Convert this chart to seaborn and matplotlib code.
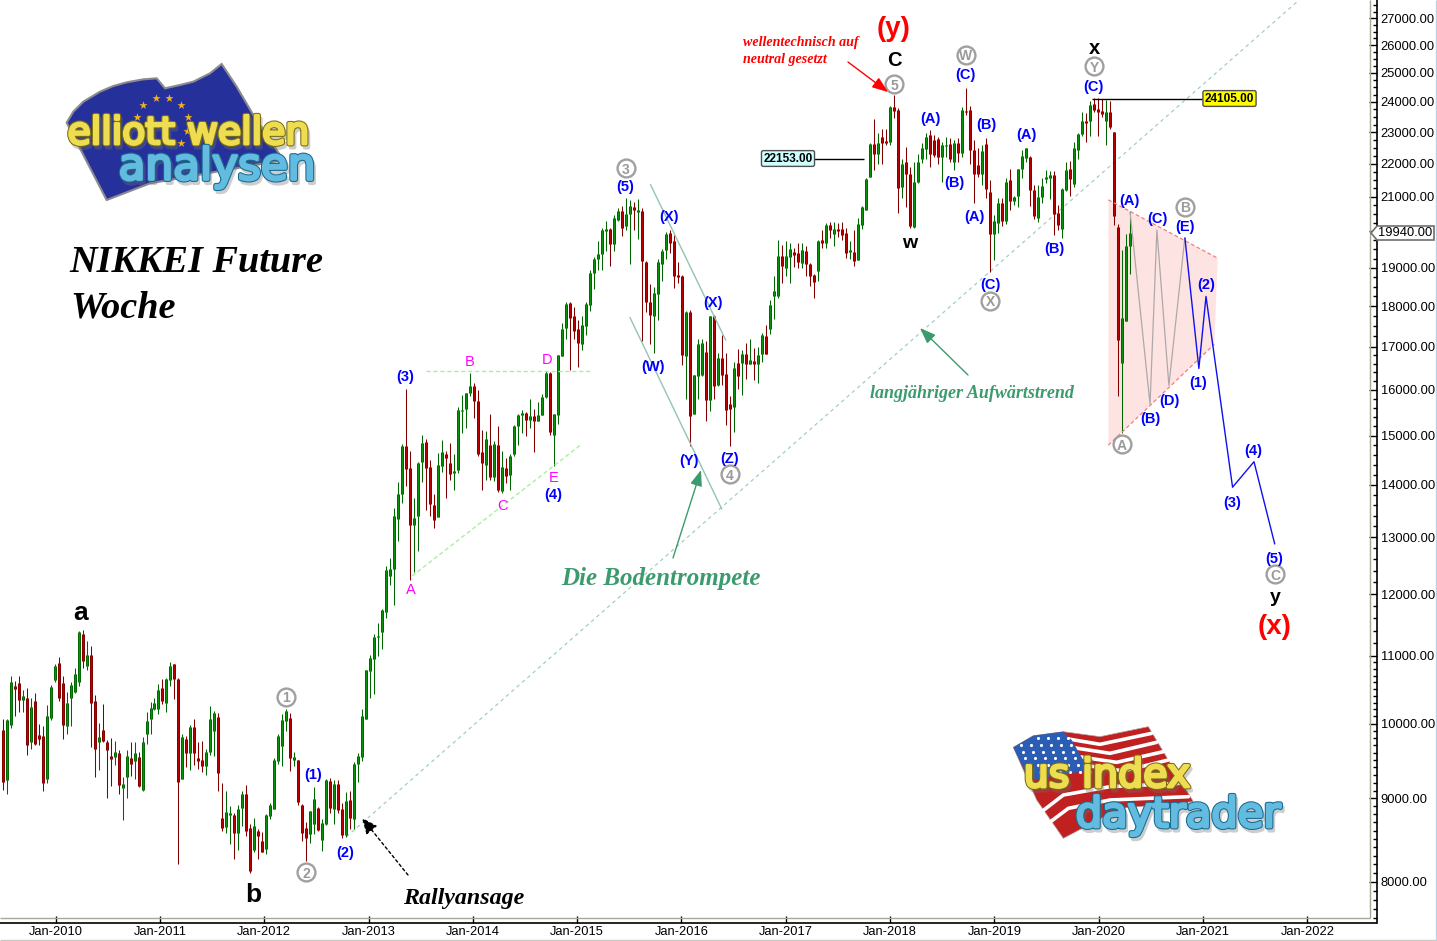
import matplotlib
matplotlib.use("Agg")
import matplotlib.pyplot as plt
import matplotlib.dates as mdates
import matplotlib.patheffects as pe
import matplotlib.transforms as mtrans
from matplotlib.patches import Polygon
from matplotlib.ticker import NullFormatter
import seaborn as sns
import pandas as pd

# candle data (one bar every two weeks)
first_date = "2009-06-29"

highs = [
    10070,10070,10700,10620,10700,10480,10510,10360,10440,10000,
    9970,10260,10560,10870,10990,10700,10450,10600,10820,11390,
    11410,11230,11150,10410,10010,10280,9770,9800,9760,9630,
    9270,9640,9740,9740,9610,9810,10160,10310,10360,10580,
    10650,10670,10910,10880,10670,9860,9820,9980,10060,9740,
    9760,9650,10250,10180,10150,9200,9100,8900,8820,8910,
    9090,9170,8680,8760,8620,8580,8800,8940,9520,9860,
    10140,10200,10150,9610,9500,8930,8710,8840,9150,8890,
    8740,9250,9260,9230,9230,8940,9080,9090,9470,9590,
    10210,10790,11020,11340,11520,11750,12490,12630,13550,14050,
    14820,16010,14680,13730,14460,15010,14930,14490,13810,14630,
    14900,14690,14850,14610,15610,15880,15930,16380,16160,15990,
    15110,15090,15460,14880,15200,14680,14540,14610,15220,15470,
    15550,15500,15800,15570,15720,15900,16430,16400,15470,16800,
    17570,18100,18100,17980,17650,17750,18100,18930,19300,19720,
    20110,20290,20090,20480,20670,20740,20960,20910,20860,20930,
    20670,19180,18560,18500,19230,19510,19990,20040,19900,19160,
    18820,17890,17910,16330,17200,17200,17140,17760,17790,16860,
    17280,16860,15860,16650,16940,16920,17100,17180,16980,16990,
    17330,17520,18150,18770,19770,19630,19720,19690,19540,19680,
    19680,19590,19140,18840,19770,20040,20230,20280,20280,20230,
    20280,20090,19720,20040,20380,20720,21570,22640,23430,22960,
    23100,23090,23880,24220,23800,22160,22530,21900,22070,22320,
    22640,22960,23070,22900,22830,22700,22830,22800,22750,22800,
    23830,24480,23850,22750,22480,22580,22800,21500,20480,20960,
    20960,21550,21850,21010,21850,22420,22480,22230,21360,21360,
    21550,21800,21780,21770,20750,21270,22070,22080,22670,22960,
    23650,23630,24050,24140,24140,24110,24080,24050,23000,20200,
    19470,19920,20570,
]
body_tops = [
    9910,10050,10610,10550,10590,10400,10360,10230,10330,9840,
    9830,10110,10530,10840,10890,10590,10300,10560,10730,11380,
    11340,11010,11010,10330,9810,9910,9740,9560,9610,9600,
    9190,9560,9520,9590,9540,9750,10030,10220,10300,10490,
    10510,10650,10850,10870,10650,9810,9790,9950,9950,9520,
    9500,9610,10060,10150,10090,8750,8830,8820,8790,8870,
    9060,9060,8630,8660,8600,8480,8790,8910,9500,9830,
    10050,10180,10080,9540,9500,8910,8630,8840,8990,8880,
    8690,9230,9220,9190,9180,8860,8970,8980,9450,9560,
    10110,10790,10970,11300,11320,11730,12410,12430,13390,13810,
    14780,14780,14330,13350,14430,14840,14860,14350,13600,14390,
    14650,14610,14430,14280,15550,15560,15930,16080,16080,15740,
    14650,14940,14800,14820,14800,14350,14330,14570,15210,15450,
    15480,15480,15430,15430,15450,15840,16380,16380,15460,16800,
    17420,18060,18080,17760,17420,17520,18060,18870,19230,19380,
    20040,20060,20060,20390,20580,20580,20500,20740,20700,20600,
    20580,19160,18110,18340,19170,19460,19930,19950,19740,18820,
    18790,17850,17850,16330,17060,17100,16880,17760,17760,16740,
    16740,16350,15680,16510,16610,16820,16840,16680,16670,16800,
    17280,17260,18030,18380,19320,19320,19330,19500,19430,19390,
    19470,19460,19090,18800,19720,19770,20180,20180,20070,20070,
    20060,19950,19470,19430,20210,20690,21540,22610,22610,22640,
    22830,22710,23830,23830,23740,22000,22070,21700,21450,22070,
    22480,22830,22900,22760,22770,22580,22600,22610,22640,22640,
    23740,23700,23730,22420,21970,22410,22610,21140,20300,20810,
    20810,21430,21500,20990,21850,22250,22480,22200,21210,20990,
    21320,21580,21650,21650,20530,21240,21800,21840,22480,22930,
    23360,23360,23910,23940,23770,23710,23650,23660,23000,20130,
    17710,19600,19960,
]
body_bots = [
    9210,9240,9980,10500,10340,10340,9700,9750,9720,9780,
    9200,9250,10080,10640,10360,9980,9960,10360,10460,10610,
    10920,10850,10300,9650,9750,9760,9630,9510,9540,9170,
    9130,9270,9440,9480,9160,9110,9850,10060,10210,10210,
    10320,10300,10640,10650,9210,9250,9600,9600,9600,9490,
    9420,9420,9610,9900,9330,8630,8640,8790,8570,8570,
    8880,8600,8130,8370,8540,8350,8380,8780,8870,9480,
    9690,10030,9530,9500,8950,8570,8510,8560,8680,8610,
    8490,8680,8880,8870,8850,8550,8550,8750,8740,9440,
    9540,10060,10770,10950,11300,11380,11700,12310,12430,13340,
    13820,14310,13220,13220,13390,14460,14330,13620,13320,13380,
    14370,14540,14210,14230,14290,15530,15570,15930,15750,14610,
    14440,14390,14150,14150,13890,13870,14170,14190,14610,15200,
    15450,15330,15330,15310,15310,15450,15830,15070,15020,15440,
    16780,17460,17700,17380,17090,17070,17500,18030,18860,19240,
    19380,20020,19650,19660,20330,20110,20140,20490,20600,20550,
    19180,18110,17770,17760,18310,19100,19470,19690,18780,18750,
    16810,16780,15420,15470,16320,16330,15770,15770,16090,16110,
    16340,15560,15570,15620,16320,16610,16600,16600,16600,16600,
    16820,16840,17420,18250,18250,19050,19000,19290,19350,19150,
    19140,19090,18780,18620,18910,19680,19680,20040,19930,20010,
    19900,19410,19420,19180,19210,20180,20620,21600,22300,22290,
    22660,22660,22690,23700,21260,21280,21700,20140,20120,21440,
    22140,22460,22320,22270,22200,22210,22560,22140,22070,22340,
    22340,23660,22420,21700,21700,21690,21230,19920,19920,20230,
    20310,20310,20890,20890,21010,21840,22180,21210,20430,20370,
    20980,21540,21570,20490,20190,20080,21210,21520,21370,22420,
    22930,23310,23350,23740,23680,23590,23370,23180,20430,17170,
    16620,17630,19590,
]
lows = [
    9110,9050,9940,10110,10160,10170,9570,9650,9700,9700,
    9090,9200,10050,10600,10330,9790,9860,9960,10440,10550,
    10820,10780,9670,9270,9370,9740,9010,9160,9430,9050,
    8730,9000,9290,9250,9140,9100,9720,9860,10190,10130,
    10280,10160,10550,10350,8210,9250,9410,9370,9430,9380,
    9340,9300,9570,9560,9100,8590,8570,8440,8260,8370,
    8660,8540,8100,8340,8260,8340,8320,8740,8870,9450,
    9420,9900,9350,9420,8920,8480,8240,8450,8560,8590,
    8360,8670,8820,8680,8820,8510,8520,8620,8620,9210,
    9480,10060,10360,10420,11000,11100,11610,12150,11810,12940,
    13640,13970,12240,12380,12750,14060,13510,13390,13170,13370,
    14250,13730,14090,13890,14240,15060,15160,15860,15380,14580,
    13900,14100,14100,14070,13860,13840,14030,13900,14580,14800,
    15060,15000,15170,14660,15310,15440,15820,15010,14370,15240,
    16780,17180,16460,17200,16530,16920,17280,17890,18430,18940,
    18940,19450,19050,19450,20310,19860,20040,19090,20040,19780,
    17150,17850,17060,16860,17650,18650,19230,19390,18480,18610,
    16570,15790,14780,15460,15790,16320,15310,15520,15800,16090,
    16110,15220,14780,15070,16010,15880,16240,16590,16220,16150,
    16640,16820,17300,17670,18210,18600,18780,18600,19030,19000,
    19000,18780,18520,18200,18650,19550,19540,19810,19590,19830,
    19770,19270,19230,19050,19210,20080,20600,21580,21800,22000,
    21980,22580,22580,23460,20530,20960,20700,20090,20100,21410,
    22020,22160,21900,22210,22000,21430,22210,22050,21800,22050,
    22210,23550,22000,20820,21600,21360,20960,18890,19220,19950,
    20140,20200,20620,20770,20700,21550,22050,20720,20350,20280,
    20810,21410,20940,19890,20040,19820,21180,21030,21290,22140,
    22890,22690,22890,23670,22890,23490,22580,23090,20190,15860,
    15060,17630,18830,
]
directions = (
    "RGGRRGRGRR" "RGGGRRGGGG" "RGRRGRRRGR" "GGRGRGGGGG" "RGGRRGRGRR"
    "RGGGRRGGRG" "GRRGRRGGGG" "GGRGRRRGGR" "GGRGRRGRGG" "GGGGGGGGGG"
    "GRRGGGRRRG" "GRRGGGGGRR" "RGRGRGRGGG" "GRGRGGGRGG" "GGRRRGGGGG"
    "GGRGGRGGRG" "RRRGGGGRRR" "RGRGGGRGRG" "RRRGRGRGRG" "GRGGGRGGRR"
    "GRRRGRGRGR" "RRGRGGGGRG" "RRGRRGRRGG" "GGRRRGGRGR" "GRRRRGRRGG"
    "RGRGGGGRRG" "GGGRRGGRGG" "GRGRRRGRRR" "GGG"
)

# wave count drawn into the triangle and the projection
tri_dates = ["2020-04-20", "2020-06-29", "2020-07-23", "2020-09-03", "2020-10-29"]
tri_prices = [20560, 15680, 20040, 16100, 19830]
proj_dates = ["2020-10-29", "2020-12-17", "2021-01-11", "2021-04-14", "2021-06-28", "2021-09-09"]
proj_prices = [19830, 16490, 18250, 13950, 14460, 12870]

shade_dates = ["2020-02-04", "2021-02-21", "2021-02-09", "2020-02-04"]
shade_prices = [20910, 19260, 17060, 14800]

# trend lines
up_dates = ["2012-10-15", "2021-12-03"]
up_prices = [8526, 27707]
flat_dates = ["2013-07-22", "2015-02-14"]
flat_prices = [16440, 16440]
rise_dates = ["2013-06-02", "2015-01-12"]
rise_prices = [12310, 14800]
trumpet_up_dates = ["2015-09-14", "2016-06-05"]
trumpet_up_prices = [21377, 17150]
trumpet_lo_dates = ["2015-07-04", "2016-05-22"]
trumpet_lo_prices = [17730, 13520]
peak_dates = ["2019-12-09", "2021-01-07"]
peak_prices = [24105, 24105]
mark_dates = ["2017-04-08", "2017-10-03"]
mark_prices = [22153, 22153]

year_labels = list(range(2010, 2023))
price_ticks = list(range(8000, 28000, 1000))
minor_ticks = (list(range(7600, 11000, 100)) + list(range(11000, 17000, 200))
               + list(range(17000, 27700, 250)))


def num(dates):
    return mdates.date2num(pd.to_datetime(dates))


sns.set_theme(style="white", rc={"lines.solid_capstyle": "butt",
                                 "lines.dash_capstyle": "butt"})
plt.rcParams["font.family"] = ["Liberation Sans", "DejaVu Sans"]

W, H = 1437, 941
fig = plt.figure(figsize=(W / 100, H / 100), dpi=100, facecolor="white")
ax = fig.add_axes([0, 18 / H, 1376.5 / W, 923 / H])
ax.set_yscale("log")

# pixel positions of the reference, only for notes and logos
px = mtrans.Affine2D().scale(1, -1).translate(0, H)

xnum = num(pd.date_range(first_date, periods=len(highs), freq="14D"))

wicks = pd.DataFrame({
    "x": list(xnum) * 2,
    "price": highs + lows,
    "candle": list(range(len(highs))) * 2,
    "dir": list(directions) * 2,
})
bodies = pd.DataFrame({
    "x": list(xnum) * 2,
    "price": body_tops + body_bots,
    "candle": list(range(len(highs))) * 2,
    "dir": list(directions) * 2,
})

ax.fill(num(shade_dates), shade_prices, color="#FDE4E2", lw=0, zorder=1)
sns.lineplot(x=num(up_dates), y=up_prices, color="#9CCDBB", lw=0.85, linestyle=(0, (3, 3)), ax=ax, zorder=1.5)

wick_pal = {"G": "#006400", "R": "#800000"}
sns.lineplot(data=wicks, x="x", y="price", units="candle", estimator=None, hue="dir",
             palette=wick_pal, lw=0.75, legend=False, ax=ax, zorder=2)
sns.lineplot(data=bodies, x="x", y="price", units="candle", estimator=None, hue="dir",
             palette=wick_pal, lw=2.16, legend=False, ax=ax, zorder=2.1)
sns.lineplot(data=bodies, x="x", y="price", units="candle", estimator=None, hue="dir",
             palette={"G": "#0B900B", "R": "#B80000"}, lw=0.9, legend=False, ax=ax, zorder=2.2)

# triangle borders
sns.lineplot(x=num([shade_dates[0], shade_dates[1]]), y=shade_prices[:2], color="#F08080", lw=0.9,
             linestyle=(0, (3, 2)), ax=ax, zorder=2.5)
sns.lineplot(x=num([shade_dates[3], shade_dates[2]]), y=[shade_prices[3], shade_prices[2]], color="#F08080",
             lw=0.9, linestyle=(0, (3, 2)), ax=ax, zorder=2.5)

sns.lineplot(x=num(flat_dates), y=flat_prices, color="#A8F0A0", lw=1, linestyle=(0, (3, 2)), ax=ax, zorder=2.5)
sns.lineplot(x=num(rise_dates), y=rise_prices, color="#A8F0A0", lw=1, linestyle=(0, (3, 2)), ax=ax, zorder=2.5)
sns.lineplot(x=num(trumpet_up_dates), y=trumpet_up_prices, color="#93C4B2", lw=1, ax=ax, zorder=2.5)
sns.lineplot(x=num(trumpet_lo_dates), y=trumpet_lo_prices, color="#93C4B2", lw=1, ax=ax, zorder=2.5)
sns.lineplot(x=num(peak_dates), y=peak_prices, color="black", lw=1, ax=ax, zorder=2.5)
sns.lineplot(x=num(mark_dates), y=mark_prices, color="black", lw=1, ax=ax, zorder=2.5)

sns.lineplot(x=num(tri_dates), y=tri_prices, color="#AFA8A8", lw=0.9, sort=False, estimator=None, ax=ax, zorder=3)
sns.lineplot(x=num(proj_dates), y=proj_prices, color="#1010F0", lw=1, sort=False, estimator=None, ax=ax, zorder=3)

ax.set_xlim(mdates.date2num(pd.Timestamp("2009-06-20")), mdates.date2num(pd.Timestamp("2022-08-31")))
ax.set_ylim(7551, 27707)

# axes
ax.yaxis.tick_right()
ax.set_yticks(price_ticks)
ax.set_yticklabels([f"{p}.00" for p in price_ticks], fontsize=9.3, color="black")
ax.set_yticks(minor_ticks, minor=True)
ax.yaxis.set_minor_formatter(NullFormatter())
ax.set_xticks(num([f"{y}-01-01" for y in year_labels]))
ax.set_xticklabels([f"Jan-{y}" for y in year_labels], fontsize=9.3, color="black")
ax.tick_params(axis="y", which="major", direction="in", length=6, width=1, color="black", pad=3,
               left=False, right=True)
ax.tick_params(axis="y", which="minor", direction="in", length=3, width=1, color="black",
               left=False, right=True)
ax.tick_params(axis="x", which="major", direction="in", length=5, width=1, color="black", pad=2,
               bottom=True)
ax.set_xlabel("")
ax.set_ylabel("")
for side in ["top", "left"]:
    ax.spines[side].set_visible(False)
for side in ["bottom", "right"]:
    ax.spines[side].set_color("black")
    ax.spines[side].set_linewidth(1.2)
ax.patch.set_alpha(0)

# frame lines around the plot
for xs, ys, c in [([0, 1370], [918, 918], "#A8A898"), ([1370, 1370], [0, 918], "#A8A898"),
                  ([0, W], [940, 940], "#C8C8C0"), ([1436, 1436], [0, H], "#B8D4E8")]:
    ax.plot(xs, ys, color=c, lw=1, transform=px, clip_on=False, zorder=1)


def note(x, y, s, color="#0000FF", size=10.5, weight="bold", style="normal", family=None, ha="center"):
    fam = family if family else "Liberation Sans"
    return ax.text(x, y, s, color=color, fontsize=size, fontweight=weight, fontstyle=style, family=fam,
                   ha=ha, va="center_baseline", transform=px, zorder=6)


def ring(x, y, s):
    ax.scatter([x], [y], s=165, facecolor="white", edgecolor="#A0A0A0", lw=1.7, transform=px,
               clip_on=False, zorder=5)
    note(x, y, s, color="#9A9A9A", size=10)


for x, y, s in [(930, 117, "(A)"), (954, 182, "(B)"), (965, 73, "(C)"), (986, 124, "(B)"), (974, 215, "(A)"),
                (1026, 134, "(A)"), (1054, 248, "(B)"), (990, 283, "(C)"), (1093, 85, "(C)"),
                (1129, 200, "(A)"), (1157, 217, "(C)"), (1185, 226, "(E)"), (1206, 284, "(2)"),
                (1198, 381, "(1)"), (1169, 400, "(D)"), (1150, 418, "(B)"), (1253, 450, "(4)"),
                (1232, 501, "(3)"), (1274, 558, "(5)"), (405, 376, "(3)"), (553, 494, "(4)"),
                (625, 186, "(5)"), (669, 216, "(X)"), (653, 365, "(W)"), (713, 301, "(X)"),
                (689, 459, "(Y)"), (730, 457, "(Z)"), (313, 773, "(1)"), (345, 851, "(2)")]:
    note(x, y, s)

for x, y, s in [(470, 361, "B"), (547, 358, "D"), (411, 588, "A"), (503, 504, "C"), (554, 477, "E")]:
    note(x, y, s, color="#FF00FF", weight="normal")

for x, y, s in [(894, 84, "5"), (966, 55, "W"), (990, 301, "X"), (1094, 66, "Y"), (1185, 207, "B"),
                (1122, 444, "A"), (1275, 574, "C"), (626, 168, "3"), (730, 474, "4"),
                (286, 697, "1"), (306, 872, "2")]:
    ring(x, y, s)

for x, y, s, fs in [(894, 59, "C", 14.5), (1094, 46, "x", 14.5), (910, 242, "w", 14), (1275, 595, "y", 14),
                    (81, 610, "a", 19), (253, 892, "b", 19)]:
    note(x, y, s, color="black", size=fs)
note(894, 26, "(y)", color="#FF0000", size=20)
note(1275, 624, "(x)", color="#FF0000", size=20)

serif = "Liberation Serif"
note(743, 41, "wellentechnisch auf", color="#FF0000", size=10.1, style="italic", family=serif, ha="left")
note(743, 58, "neutral gesetzt", color="#FF0000", size=10.1, style="italic", family=serif, ha="left")
note(464, 896, "Rallyansage", color="black", size=17.3, style="italic", family=serif)
note(661, 576, "Die Bodentrompete", color="#3C9B6E", size=18, style="italic", family=serif)
note(972, 392, "langjähriger Aufwärtstrend", color="#3C9B6E", size=13, style="italic", family=serif)
note(69, 259, "NIKKEI Future", color="black", size=27.5, style="italic", family=serif, ha="left")
note(70, 304, "Woche", color="black", size=27.5, style="italic", family=serif, ha="left")

# arrows
for tail, head, c, ls, hs in [((848, 62), (888, 92), "#FF0000", "-", 0.3), ((673, 558), (701, 470), "#3C9B6E", "-", 0.3),
                              ((968, 375), (920, 328), "#3C9B6E", "-", 0.3),
                              ((408, 875), (362, 818), "black", (0, (2, 2)), 0.35)]:
    ax.annotate("", xy=head, xytext=tail, xycoords=px, textcoords=px, zorder=6,
                arrowprops=dict(arrowstyle=f"-|>,head_length=0.8,head_width={hs}", color=c, lw=1, ls=ls,
                                shrinkA=0, shrinkB=0))

# price tags
ax.text(1229.5, 98.5, "24105.00", fontsize=8.5, fontweight="bold", color="black", ha="center", va="center",
        transform=px, zorder=7, bbox=dict(boxstyle="round,pad=0.16", fc="#FFFF00", ec="#505050", lw=1))
ax.text(788, 158.5, "22153.00", fontsize=8.5, fontweight="bold", color="black", ha="center", va="center",
        transform=px, zorder=7, bbox=dict(boxstyle="round,pad=0.16", fc="#CFFFFF", ec="#505050", lw=1))
ax.add_patch(Polygon([(1371, 233), (1377, 226), (1434, 226), (1434, 240), (1377, 240)], closed=True, fc="white",
                     ec="#707070", lw=1.2, transform=px, clip_on=False, zorder=7))
ax.text(1405, 233, "19940.00", fontsize=9.3, color="black", ha="center", va="center", transform=px, zorder=8)


# logos
def logo_text(x, y, s, fs, fill, edge):
    ax.text(x, y, s, fontsize=fs, family="DejaVu Sans", color=fill, ha="center", va="center", transform=px, zorder=9,
            path_effects=[pe.SimpleLineShadow(offset=(1.5, -2.5), shadow_color="#707070", alpha=0.35, linewidth=3),
                          pe.withStroke(linewidth=3.5, foreground=edge), pe.withStroke(linewidth=2, foreground=fill),
                          pe.Normal()])


def z1(pts):
    return [(50 + a / 3, 50 + b / 3) for a, b in pts]


def z2(pts):
    return [(1000 + a / 3, 715 + b / 3) for a, b in pts]


eu_flag = z1([(50, 218), (70, 185), (100, 155), (150, 125), (190, 108), (230, 97), (280, 88), (320, 85), (345, 115),
              (390, 105), (430, 95), (480, 70), (515, 42), (560, 110), (610, 195), (700, 330), (300, 400), (170, 450)])
ax.add_patch(Polygon(eu_flag, closed=True, fc="#26309A", ec="#8A8A90", lw=1.5, transform=px, zorder=7))
eu_stars = z1([(280, 165), (317, 145), (358, 145), (393, 165), (413, 202), (410, 243), (393, 278), (260, 202)])
ax.scatter([p[0] for p in eu_stars], [p[1] for p in eu_stars], marker="*", s=38, color="#F0B020", lw=0,
           transform=px, zorder=7.5)
logo_text(188, 134, "elliott wellen", 27.2, "#EEDD50", "#7A6C10")
logo_text(217, 167, "analysen", 31.5, "#63BBE0", "#176A90")

us_flag = z2([(40, 97), (100, 62), (190, 50), (300, 65), (445, 35), (520, 160), (580, 260), (360, 280), (190, 370),
              (110, 255)])
ax.add_patch(Polygon(us_flag, closed=True, fc="#C02020", ec="#B0A0A0", lw=0.5, transform=px, zorder=7))
for pts in [[(205, 72), (300, 88), (455, 55)], [(220, 98), (330, 115), (470, 82)], [(235, 125), (350, 142), (490, 110)],
            [(250, 150), (370, 168), (505, 135)], [(125, 290), (190, 240), (330, 215), (540, 205)],
            [(145, 325), (205, 280), (330, 255), (565, 245)]]:
    p = z2(pts)
    ax.plot([a for a, b in p], [b for a, b in p], color="white", lw=2.6, transform=px, zorder=7.2,
            solid_capstyle="round")
canton = z2([(40, 97), (100, 62), (190, 50), (215, 75), (270, 170), (190, 175), (110, 195), (75, 170)])
ax.add_patch(Polygon(canton, closed=True, fc="#2B5DB5", ec="none", transform=px, zorder=7.3))
inside = Polygon(canton, closed=True).get_path()
us_stars = [p for p in z2([(a + b * 0.35, b) for b in range(70, 190, 20) for a in range(30, 230, 30)])
            if inside.contains_point(p)]
ax.scatter([p[0] for p in us_stars], [p[1] for p in us_stars], marker="o", s=5, color="white", lw=0,
           transform=px, zorder=7.5)
logo_text(1107, 776, "us index", 28.5, "#EEDD50", "#7A6C10")
logo_text(1178, 815, "daytrader", 30, "#63BBE0", "#176A90")

ax.set_xlim(mdates.date2num(pd.Timestamp("2009-06-20")), mdates.date2num(pd.Timestamp("2022-08-31")))
ax.set_ylim(7551, 27707)
fig.savefig("out.png", dpi=100)
